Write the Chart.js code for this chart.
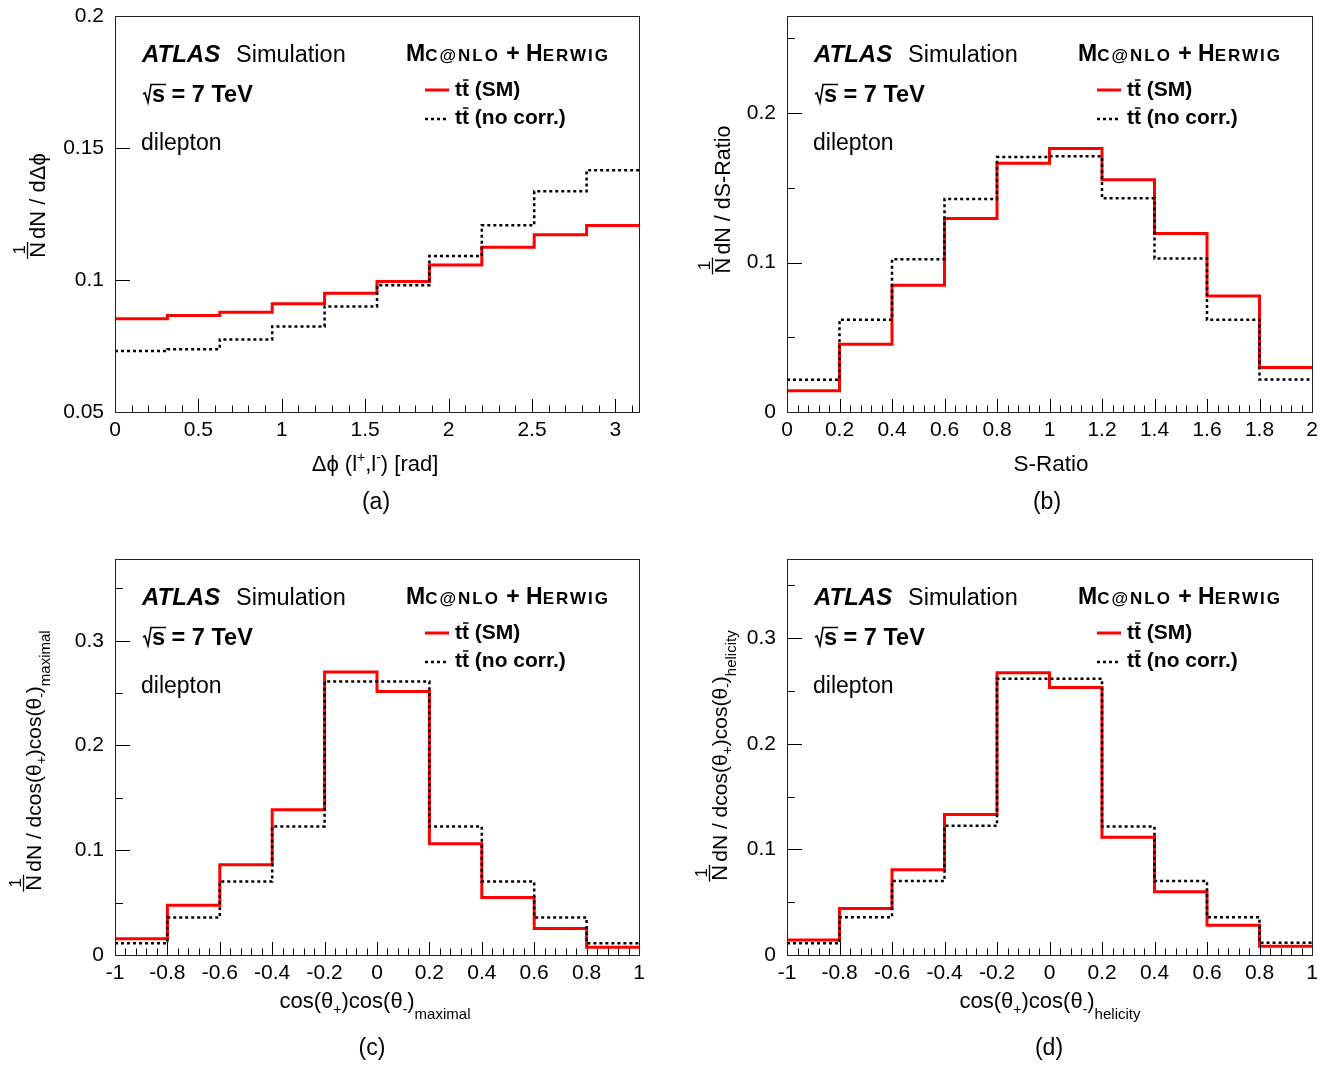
<!DOCTYPE html>
<html>
<head>
<meta charset="utf-8">
<script src="https://cdn.jsdelivr.net/npm/chart.js@4.4.1/dist/chart.umd.min.js"></script>
<style>
  body { margin: 0; background: #fff; width: 1335px; height: 1066px; position: relative; overflow: hidden; }
  canvas { position: absolute; }
</style>
</head>
<body>
<canvas id="pa" width="667" height="543" style="left:0;top:-10px;width:667px;height:543px"></canvas>
<canvas id="pb" width="668" height="543" style="left:667px;top:-10px;width:668px;height:543px"></canvas>
<canvas id="pc" width="667" height="533" style="left:0;top:533px;width:667px;height:533px"></canvas>
<canvas id="pd" width="668" height="533" style="left:667px;top:533px;width:668px;height:533px"></canvas>
<script>
// ---- data ----
// (a) delta phi, 10 bins of pi/10
const dphiEdges = [0, 0.3142, 0.6283, 0.9425, 1.2566, 1.5708, 1.8850, 2.1991, 2.5133, 2.8274, 3.1416];
const dphiSM = [0.0853, 0.0866, 0.0878, 0.0910, 0.0950, 0.0994, 0.1057, 0.1124, 0.1171, 0.1206];
const dphiNoCorr = [0.0731, 0.0738, 0.0775, 0.0824, 0.0900, 0.0980, 0.1091, 0.1207, 0.1336, 0.1416];
const dphiXTicks = [0, 0.5, 1, 1.5, 2, 2.5, 3];
const dphiYTicks = [0.05, 0.1, 0.15, 0.2];

// (b) S-ratio
const sRatioEdges = [0, 0.2, 0.4, 0.6, 0.8, 1, 1.2, 1.4, 1.6, 1.8, 2];
const sRatioSM = [0.0142, 0.0454, 0.0848, 0.1295, 0.1664, 0.1764, 0.1555, 0.1195, 0.0776, 0.0298];
const sRatioNoCorr = [0.0216, 0.0618, 0.1023, 0.1426, 0.1706, 0.1711, 0.1430, 0.1028, 0.0618, 0.0218];
const sRatioXTicks = [0, 0.2, 0.4, 0.6, 0.8, 1, 1.2, 1.4, 1.6, 1.8, 2];
const sRatioYTicks = [0, 0.1, 0.2];

// (c) cos*cos maximal, (d) cos*cos helicity
const cosEdges = [-1, -0.8, -0.6, -0.4, -0.2, 0, 0.2, 0.4, 0.6, 0.8, 1];
const maximalSM = [0.0154, 0.0474, 0.0861, 0.1386, 0.2701, 0.2515, 0.1062, 0.0550, 0.0253, 0.0074];
const maximalNoCorr = [0.0112, 0.0358, 0.0701, 0.1226, 0.2611, 0.2611, 0.1226, 0.0701, 0.0358, 0.0112];
const helicitySM = [0.0143, 0.0440, 0.0808, 0.1330, 0.2673, 0.2534, 0.1115, 0.0599, 0.0282, 0.0082];
const helicityNoCorr = [0.0111, 0.0358, 0.0700, 0.1223, 0.2616, 0.2616, 0.1216, 0.0700, 0.0358, 0.0117];
const cosXTicks = [-1, -0.8, -0.6, -0.4, -0.2, 0, 0.2, 0.4, 0.6, 0.8, 1];
const cosYTicks = [0, 0.1, 0.2, 0.3];

const FONT = '"Liberation Sans", Arial, Helvetica, sans-serif';

// histogram outline: one point per left edge, plus the last right edge
function histPoints(edges, vals) {
    const pts = vals.map((v, i) => ({ x: edges[i], y: v }));
    pts.push({ x: edges[edges.length - 1], y: vals[vals.length - 1] });
    return pts;
}

function fontOf(s) {
    return (s.it ? 'italic ' : '') + (s.b ? 'bold ' : '') + s.s + 'px ' + FONT;
}

// draws a row of text pieces (sub/superscripts, small caps, t-bar, sqrt, fraction)
function rich(ctx, segs, x, y, align) {
    let w = 0;
    segs.forEach(s => {
        ctx.letterSpacing = (s.ls || 0) + 'px';
        if (s.gap) { s._w = s.gap; }
        else if (s.frac) { ctx.font = fontOf(s); s._w = ctx.measureText('N').width + 4; }
        else { ctx.font = fontOf(s); s._w = ctx.measureText(s.t).width; }
        w += s._w;
    });
    let cx = align === 'center' ? x - w / 2 : x;
    ctx.textAlign = 'left';
    ctx.textBaseline = 'alphabetic';
    segs.forEach(s => {
        const by = y + (s.dy || 0);
        ctx.letterSpacing = (s.ls || 0) + 'px';
        if (s.frac) {
            ctx.font = fontOf(s);
            ctx.fillText('N', cx + 1, by);
            ctx.font = fontOf({ s: 17 });
            const w1 = ctx.measureText('1').width;
            ctx.fillText('1', cx + (s._w - 2) / 2 - w1 / 2, by - 20.5);
            ctx.lineWidth = 1.3;
            ctx.beginPath();
            ctx.moveTo(cx, by - 17.5);
            ctx.lineTo(cx + s._w - 3, by - 17.5);
            ctx.stroke();
        } else if (!s.gap) {
            ctx.font = fontOf(s);
            ctx.fillText(s.t, cx, by);
            if (s.bar) {
                ctx.lineWidth = 1.5;
                ctx.beginPath();
                ctx.moveTo(cx + 1, by - s.s * 0.76);
                ctx.lineTo(cx + s._w - 0.5, by - s.s * 0.76);
                ctx.stroke();
            }
            if (s.root) {
                ctx.lineWidth = 1.6;
                ctx.beginPath();
                ctx.moveTo(cx - 9, by - 8);
                ctx.lineTo(cx - 7, by - 9);
                ctx.lineTo(cx - 4, by + 0.5);
                ctx.lineTo(cx - 1, by - 17.5);
                ctx.lineTo(cx + s._w + 1, by - 17.5);
                ctx.stroke();
            }
        }
        cx += s._w;
    });
    ctx.letterSpacing = '0px';
}

function drawFrameAndTicks(chart, p) {
    const { ctx, chartArea: a, scales: { x, y } } = chart;
    ctx.save();
    ctx.strokeStyle = '#000';
    ctx.lineWidth = 1;
    // x ticks, pointing into the frame
    const nx = Math.round((p.xMax - p.xMin) / p.xMinor);
    for (let i = 0; i <= nx; i++) {
        const v = p.xMin + i * p.xMinor;
        if (v > p.xMax + 1e-9) break;
        const major = p.xTicks.some(t => Math.abs(t - v) < 1e-6);
        const px = Math.round(x.getPixelForValue(v)) + 0.5;
        ctx.beginPath();
        ctx.moveTo(px, a.bottom);
        ctx.lineTo(px, a.bottom - (major ? 13 : 6.5));
        ctx.stroke();
    }
    // y ticks
    p.yTicks.forEach(v => {
        const py = Math.round(y.getPixelForValue(v)) + 0.5;
        ctx.beginPath();
        ctx.moveTo(a.left, py);
        ctx.lineTo(a.left + 15, py);
        ctx.stroke();
    });
    if (p.yMinor) {
        for (let v = p.yMinor; v < p.yMax; v += 2 * p.yMinor) {
            const py = Math.round(y.getPixelForValue(v)) + 0.5;
            ctx.beginPath();
            ctx.moveTo(a.left, py);
            ctx.lineTo(a.left + 8, py);
            ctx.stroke();
        }
    }
    ctx.strokeStyle = '#222';
    ctx.strokeRect(Math.round(a.left) + 0.5, Math.round(a.top) + 0.5,
        Math.round(a.right - a.left), Math.round(a.bottom - a.top));
    ctx.restore();
}

function drawTexts(chart, p) {
    const { ctx, chartArea: a } = chart;
    const L = a.left, T = a.top;
    ctx.save();
    ctx.fillStyle = '#000';
    ctx.strokeStyle = '#000';

    rich(ctx, [{ t: 'ATLAS', s: 24, b: 1, it: 1 }], L + 27, T + 46);
    rich(ctx, [{ t: 'Simulation', s: 23.5 }], L + 121, T + 46);
    rich(ctx, [{ gap: 10 }, { t: 's', s: 23.5, b: 1, root: 1 }, { t: ' = 7 TeV', s: 23.5, b: 1 }], L + 27, T + 86);
    rich(ctx, [{ t: 'dilepton', s: 23 }], L + 26, T + 134);

    rich(ctx, [
        { t: 'M', s: 23, b: 1 }, { t: 'C@NLO', s: 17, b: 1, ls: 2 }, { t: ' + ', s: 23, b: 1 },
        { t: 'H', s: 23, b: 1 }, { t: 'ERWIG', s: 17, b: 1, ls: 2 }
    ], L + 291, T + 45);

    // legend
    ctx.lineWidth = 3;
    ctx.strokeStyle = '#ff0000';
    ctx.beginPath(); ctx.moveTo(L + 310, T + 74); ctx.lineTo(L + 334, T + 74); ctx.stroke();
    ctx.strokeStyle = '#000';
    ctx.lineWidth = 2.5;
    ctx.setLineDash([3, 3]);
    ctx.beginPath(); ctx.moveTo(L + 310, T + 103); ctx.lineTo(L + 334, T + 103); ctx.stroke();
    ctx.setLineDash([]);
    rich(ctx, [{ t: 't', s: 21, b: 1 }, { t: 't', s: 21, b: 1, bar: 1 }, { t: ' (SM)', s: 21, b: 1 }], L + 340, T + 80);
    rich(ctx, [{ t: 't', s: 21, b: 1 }, { t: 't', s: 21, b: 1, bar: 1 }, { t: ' (no corr.)', s: 21, b: 1 }], L + 340, T + 108);

    // axis titles and panel letter
    rich(ctx, p.xTitle, p.xTitlePos[0], p.xTitlePos[1], 'center');
    rich(ctx, [{ t: p.letter, s: 23 }], p.letterPos[0], p.letterPos[1], 'center');

    ctx.save();
    ctx.translate(p.yTitlePos[0], p.yTitlePos[1]);
    ctx.rotate(-Math.PI / 2);
    rich(ctx, p.yTitle, 0, 0, 'center');
    ctx.restore();

    ctx.restore();
}

function makePanel(p) {
    const canvas = document.getElementById(p.id);
    const W = canvas.width, H = canvas.height;
    const xAxisH = 30;
    const chart = new Chart(canvas.getContext('2d'), {
        type: 'line',
        data: {
            datasets: [
                {
                    label: 'tt (no corr.)',
                    data: histPoints(p.edges, p.noCorr),
                    borderColor: '#000',
                    borderWidth: 2.5,
                    borderDash: [3, 3],
                    stepped: 'before',
                    pointRadius: 0,
                    fill: false,
                    order: 1
                },
                {
                    label: 'tt (SM)',
                    data: histPoints(p.edges, p.sm),
                    borderColor: '#ff0000',
                    borderWidth: 3,
                    stepped: 'before',
                    pointRadius: 0,
                    fill: false,
                    order: 2
                }
            ]
        },
        options: {
            responsive: false,
            animation: false,
            events: [],
            layout: {
                padding: {
                    left: 0,
                    top: p.area.top,
                    right: W - p.area.right,
                    bottom: H - p.area.bottom - xAxisH
                }
            },
            plugins: { legend: { display: false }, tooltip: { enabled: false } },
            scales: {
                x: {
                    type: 'linear',
                    min: p.xMin,
                    max: p.xMax,
                    afterBuildTicks: s => { s.ticks = p.xTicks.map(v => ({ value: v })); },
                    afterFit: s => { s.height = xAxisH; },
                    grid: { display: false, drawTicks: false },
                    border: { display: false },
                    ticks: {
                        padding: 6,
                        maxRotation: 0,
                        autoSkip: false,
                        color: '#000',
                        font: { family: FONT, size: 21 },
                        callback: v => String(v)
                    }
                },
                y: {
                    type: 'linear',
                    min: p.yMin,
                    max: p.yMax,
                    afterBuildTicks: s => { s.ticks = p.yTicks.map(v => ({ value: v })); },
                    afterFit: s => { s.width = p.area.left; },
                    grid: { display: false, drawTicks: false },
                    border: { display: false },
                    ticks: {
                        padding: 11,
                        color: '#000',
                        font: { family: FONT, size: 21 },
                        callback: v => String(v)
                    }
                }
            }
        },
        plugins: [{
            id: 'hepFrame',
            afterDatasetsDraw: c => drawFrameAndTicks(c, p),
            afterDraw: c => drawTexts(c, p)
        }]
    });
    // the layout may add label overflow to the padding; pull the plot frame back to its place
    const ca = chart.chartArea;
    const pad = chart.options.layout.padding;
    pad.top += p.area.top - ca.top;
    pad.bottom += ca.bottom - p.area.bottom;
    pad.right += ca.right - p.area.right;
    chart.update();
}

const fracN = { frac: 1, s: 22 };

// panels (a) and (b) sit on canvases that start 10px above the page
makePanel({
    id: 'pa', edges: dphiEdges, sm: dphiSM, noCorr: dphiNoCorr,
    xMin: 0, xMax: Math.PI, xTicks: dphiXTicks, xMinor: 0.1,
    yMin: 0.05, yMax: 0.2, yTicks: dphiYTicks, yMinor: null,
    area: { left: 115, top: 26, right: 639, bottom: 422 },
    xTitle: [{ t: 'Δϕ (l', s: 22 }, { t: '+', s: 14, dy: -9 }, { t: ',l', s: 22 }, { t: '-', s: 14, dy: -9 }, { t: ') [rad]', s: 22 }],
    xTitlePos: [375, 481], letter: '(a)', letterPos: [376, 519],
    yTitle: [fracN, { t: 'dN / dΔϕ', s: 22 }], yTitlePos: [45, 216]
});

makePanel({
    id: 'pb', edges: sRatioEdges, sm: sRatioSM, noCorr: sRatioNoCorr,
    xMin: 0, xMax: 2, xTicks: sRatioXTicks, xMinor: 0.04,
    yMin: 0, yMax: 0.265, yTicks: sRatioYTicks, yMinor: 0.05,
    area: { left: 120, top: 26, right: 645, bottom: 422 },
    xTitle: [{ t: 'S-Ratio', s: 22.5 }],
    xTitlePos: [384, 481], letter: '(b)', letterPos: [380, 519],
    yTitle: [fracN, { t: 'dN / dS-Ratio', s: 21.5 }], yTitlePos: [63, 210]
});

makePanel({
    id: 'pc', edges: cosEdges, sm: maximalSM, noCorr: maximalNoCorr,
    xMin: -1, xMax: 1, xTicks: cosXTicks, xMinor: 0.04,
    yMin: 0, yMax: 0.378, yTicks: cosYTicks, yMinor: 0.05,
    area: { left: 115, top: 26, right: 639, bottom: 422 },
    xTitle: [{ t: 'cos(θ', s: 22 }, { t: '+', s: 14, dy: 6 }, { t: ')cos(θ', s: 22 }, { t: '-', s: 14, dy: 6 }, { t: ')', s: 22 }, { t: 'maximal', s: 15, dy: 11 }],
    xTitlePos: [375, 475], letter: '(c)', letterPos: [372, 522],
    yTitle: [fracN, { t: 'dN / dcos(θ', s: 21 }, { t: '+', s: 14, dy: 5 }, { t: ')cos(θ', s: 21 }, { t: '-', s: 14, dy: 5 }, { t: ')', s: 21 }, { t: 'maximal', s: 15, dy: 9 }],
    yTitlePos: [41, 228]
});

makePanel({
    id: 'pd', edges: cosEdges, sm: helicitySM, noCorr: helicityNoCorr,
    xMin: -1, xMax: 1, xTicks: cosXTicks, xMinor: 0.04,
    yMin: 0, yMax: 0.375, yTicks: cosYTicks, yMinor: 0.05,
    area: { left: 120, top: 26, right: 645, bottom: 422 },
    xTitle: [{ t: 'cos(θ', s: 22 }, { t: '+', s: 14, dy: 6 }, { t: ')cos(θ', s: 22 }, { t: '-', s: 14, dy: 6 }, { t: ')', s: 22 }, { t: 'helicity', s: 15, dy: 11 }],
    xTitlePos: [383, 475], letter: '(d)', letterPos: [382, 522],
    yTitle: [fracN, { t: 'dN / dcos(θ', s: 21 }, { t: '+', s: 14, dy: 5 }, { t: ')cos(θ', s: 21 }, { t: '-', s: 14, dy: 5 }, { t: ')', s: 21 }, { t: 'helicity', s: 15, dy: 9 }],
    yTitlePos: [60, 223]
});
</script>
</body>
</html>
